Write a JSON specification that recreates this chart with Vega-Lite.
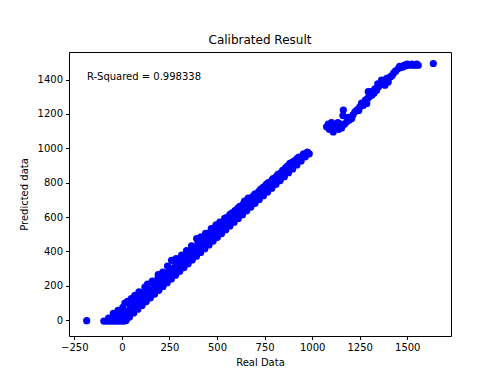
{
  "$schema": "https://vega.github.io/schema/vega-lite/v6.json",
  "width": 382,
  "height": 284,
  "autosize": {"type": "none"},
  "padding": {"left": 69, "top": 52, "right": 44, "bottom": 40},
  "background": "white",
  "title": {"text": "Calibrated Result", "font": "DejaVu Sans", "fontSize": 12, "fontWeight": "normal", "color": "black", "offset": 5},
  "config": {
    "view": {"stroke": "black", "strokeWidth": 1},
    "axis": {
      "grid": false, "domain": false,
      "tickColor": "black", "tickSize": 3.5, "tickWidth": 1,
      "labelFont": "DejaVu Sans", "labelFontSize": 10, "labelColor": "black", "labelPadding": 3,
      "titleFont": "DejaVu Sans", "titleFontSize": 10, "titleFontWeight": "normal", "titleColor": "black"
    }
  },
  "layer": [
    {
      "data": {"values": [
        {"x": -185, "y": -3},
        {"x": -95, "y": -5}, {"x": -80, "y": -5}, {"x": -65, "y": -5}, {"x": -50, "y": -5}, {"x": -35, "y": -5}, {"x": -20, "y": -5}, {"x": -5, "y": -5}, {"x": 10, "y": -5}, {"x": 22, "y": -2},
        {"x": -60, "y": 10}, {"x": -40, "y": 15}, {"x": -25, "y": 25}, {"x": -10, "y": 20}, {"x": 0, "y": 35}, {"x": 10, "y": 45}, {"x": -30, "y": 40}, {"x": -5, "y": 55}, {"x": 12, "y": 15}, {"x": -15, "y": 5},
        {"x": -70, "y": 12}, {"x": -45, "y": 40}, {"x": -20, "y": 57}, {"x": 5, "y": 75}, {"x": 16, "y": 100}, {"x": 30, "y": 110}, {"x": 50, "y": 125}, {"x": 68, "y": 145}, {"x": 90, "y": 165}, {"x": 121, "y": 192}, {"x": 135, "y": 210}, {"x": 160, "y": 228}, {"x": 191, "y": 265}, {"x": 215, "y": 280}, {"x": 240, "y": 315}, {"x": 261, "y": 348}, {"x": 285, "y": 358}, {"x": 314, "y": 378}, {"x": 340, "y": 405}, {"x": 366, "y": 432}, {"x": 393, "y": 475}, {"x": 415, "y": 485}, {"x": 440, "y": 505}, {"x": 470, "y": 532}, {"x": 495, "y": 555}, {"x": 515, "y": 570}, {"x": 540, "y": 592}, {"x": 568, "y": 615}, {"x": 595, "y": 638}, {"x": 620, "y": 662}, {"x": 645, "y": 692}, {"x": 664, "y": 710}, {"x": 690, "y": 722}, {"x": 717, "y": 738}, {"x": 740, "y": 768}, {"x": 761, "y": 792}, {"x": 785, "y": 806}, {"x": 810, "y": 834}, {"x": 835, "y": 856}, {"x": 860, "y": 886}, {"x": 883, "y": 912}, {"x": 905, "y": 925}, {"x": 930, "y": 948}, {"x": 955, "y": 968}, {"x": 975, "y": 978},
        {"x": 40, "y": 18}, {"x": 62, "y": 42}, {"x": 84, "y": 64}, {"x": 106, "y": 86}, {"x": 128, "y": 108}, {"x": 150, "y": 130}, {"x": 172, "y": 152}, {"x": 194, "y": 174}, {"x": 216, "y": 196}, {"x": 238, "y": 218}, {"x": 260, "y": 240}, {"x": 282, "y": 262}, {"x": 304, "y": 284}, {"x": 326, "y": 306}, {"x": 348, "y": 328}, {"x": 370, "y": 350}, {"x": 392, "y": 372}, {"x": 414, "y": 394}, {"x": 436, "y": 416}, {"x": 458, "y": 438}, {"x": 480, "y": 460}, {"x": 502, "y": 482}, {"x": 524, "y": 504}, {"x": 546, "y": 526}, {"x": 568, "y": 548}, {"x": 590, "y": 570}, {"x": 612, "y": 592}, {"x": 634, "y": 614}, {"x": 656, "y": 636}, {"x": 678, "y": 658}, {"x": 700, "y": 680}, {"x": 722, "y": 702}, {"x": 744, "y": 724}, {"x": 766, "y": 746}, {"x": 788, "y": 768}, {"x": 810, "y": 790}, {"x": 832, "y": 812}, {"x": 854, "y": 835}, {"x": 876, "y": 858}, {"x": 898, "y": 880}, {"x": 920, "y": 903}, {"x": 942, "y": 926}, {"x": 964, "y": 950}, {"x": 985, "y": 968},
        {"x": 30, "y": 35}, {"x": 55, "y": 60}, {"x": 80, "y": 85}, {"x": 105, "y": 110}, {"x": 130, "y": 135}, {"x": 155, "y": 160}, {"x": 180, "y": 185}, {"x": 205, "y": 210}, {"x": 230, "y": 235}, {"x": 255, "y": 260}, {"x": 280, "y": 285}, {"x": 305, "y": 310}, {"x": 330, "y": 335}, {"x": 355, "y": 360}, {"x": 380, "y": 385}, {"x": 405, "y": 410}, {"x": 430, "y": 435}, {"x": 455, "y": 460}, {"x": 480, "y": 485}, {"x": 505, "y": 510}, {"x": 530, "y": 535}, {"x": 555, "y": 560}, {"x": 580, "y": 585}, {"x": 605, "y": 610}, {"x": 630, "y": 635}, {"x": 655, "y": 660}, {"x": 680, "y": 685}, {"x": 705, "y": 710}, {"x": 730, "y": 735}, {"x": 755, "y": 760}, {"x": 780, "y": 785}, {"x": 805, "y": 810}, {"x": 830, "y": 835}, {"x": 855, "y": 860}, {"x": 880, "y": 885}, {"x": 905, "y": 910}, {"x": 930, "y": 935}, {"x": 955, "y": 958},
        {"x": 20, "y": 50}, {"x": 45, "y": 75}, {"x": 70, "y": 100}, {"x": 95, "y": 125}, {"x": 120, "y": 150}, {"x": 145, "y": 175}, {"x": 170, "y": 200}, {"x": 195, "y": 225}, {"x": 220, "y": 250}, {"x": 245, "y": 275}, {"x": 270, "y": 300}, {"x": 295, "y": 325}, {"x": 320, "y": 350}, {"x": 345, "y": 375}, {"x": 370, "y": 400}, {"x": 395, "y": 425}, {"x": 420, "y": 450}, {"x": 445, "y": 475}, {"x": 470, "y": 500}, {"x": 495, "y": 525}, {"x": 520, "y": 550}, {"x": 545, "y": 575}, {"x": 570, "y": 600}, {"x": 595, "y": 625}, {"x": 620, "y": 650}, {"x": 645, "y": 675}, {"x": 670, "y": 700}, {"x": 695, "y": 725}, {"x": 720, "y": 750}, {"x": 745, "y": 775}, {"x": 770, "y": 800}, {"x": 795, "y": 824}, {"x": 820, "y": 848}, {"x": 845, "y": 872}, {"x": 870, "y": 896}, {"x": 895, "y": 918}, {"x": 920, "y": 940},
        {"x": 40, "y": 100}, {"x": 70, "y": 128}, {"x": 100, "y": 158}, {"x": 130, "y": 186}, {"x": 160, "y": 216}, {"x": 190, "y": 245}, {"x": 220, "y": 274}, {"x": 250, "y": 305}, {"x": 280, "y": 335}, {"x": 310, "y": 362}, {"x": 340, "y": 392}, {"x": 370, "y": 422}, {"x": 400, "y": 452}, {"x": 430, "y": 480}, {"x": 460, "y": 508}, {"x": 490, "y": 538}, {"x": 520, "y": 566}, {"x": 550, "y": 596}, {"x": 580, "y": 624}, {"x": 610, "y": 652}, {"x": 640, "y": 680}, {"x": 670, "y": 708}, {"x": 700, "y": 735}, {"x": 730, "y": 762}, {"x": 760, "y": 790}, {"x": 790, "y": 816},
        {"x": 1076, "y": 1125}, {"x": 1090, "y": 1110}, {"x": 1102, "y": 1150}, {"x": 1111, "y": 1095}, {"x": 1120, "y": 1120}, {"x": 1129, "y": 1134}, {"x": 1140, "y": 1110}, {"x": 1155, "y": 1118}, {"x": 1164, "y": 1222}, {"x": 1162, "y": 1190}, {"x": 1170, "y": 1140}, {"x": 1182, "y": 1154}, {"x": 1195, "y": 1165}, {"x": 1208, "y": 1173}, {"x": 1225, "y": 1212}, {"x": 1238, "y": 1225}, {"x": 1251, "y": 1241}, {"x": 1270, "y": 1250}, {"x": 1287, "y": 1261}, {"x": 1295, "y": 1329}, {"x": 1292, "y": 1290}, {"x": 1300, "y": 1300}, {"x": 1313, "y": 1309}, {"x": 1325, "y": 1320}, {"x": 1339, "y": 1338}, {"x": 1350, "y": 1360}, {"x": 1365, "y": 1396}, {"x": 1372, "y": 1380}, {"x": 1383, "y": 1367}, {"x": 1392, "y": 1406}, {"x": 1400, "y": 1385}, {"x": 1410, "y": 1415}, {"x": 1427, "y": 1435}, {"x": 1440, "y": 1450}, {"x": 1453, "y": 1464}, {"x": 1466, "y": 1470}, {"x": 1479, "y": 1474}, {"x": 1492, "y": 1480}, {"x": 1505, "y": 1483}, {"x": 1518, "y": 1485}, {"x": 1532, "y": 1483}, {"x": 1545, "y": 1484}, {"x": 1558, "y": 1483}, {"x": 1637, "y": 1493},
        {"x": 1085, "y": 1140}, {"x": 1100, "y": 1125}, {"x": 1135, "y": 1150}, {"x": 1150, "y": 1140}, {"x": 1190, "y": 1180}, {"x": 1215, "y": 1195}, {"x": 1245, "y": 1220}, {"x": 1260, "y": 1262}, {"x": 1280, "y": 1280}, {"x": 1310, "y": 1330}, {"x": 1330, "y": 1345}, {"x": 1345, "y": 1375}, {"x": 1360, "y": 1372}, {"x": 1380, "y": 1395}, {"x": 1420, "y": 1422}, {"x": 1435, "y": 1446}, {"x": 1460, "y": 1476}, {"x": 1485, "y": 1484}, {"x": 1500, "y": 1490}, {"x": 1525, "y": 1490}, {"x": 1550, "y": 1490}
      ]},
      "mark": {"type": "circle", "color": "#0000ff", "size": 52, "opacity": 1},
      "encoding": {
        "x": {"field": "x", "type": "quantitative", "scale": {"domain": [-278, 1730], "nice": false, "zero": false}, "axis": {"title": "Real Data", "titlePadding": 5, "format": "d", "values": [-250, 0, 250, 500, 750, 1000, 1250, 1500]}},
        "y": {"field": "y", "type": "quantitative", "scale": {"domain": [-92, 1560], "nice": false, "zero": false}, "axis": {"title": "Predicted data", "titlePadding": 8, "format": "d", "values": [0, 200, 400, 600, 800, 1000, 1200, 1400]}}
      }
    },
    {
      "data": {"values": [{"x": -184, "y": 1414, "label": "R-Squared = 0.998338"}]},
      "mark": {"type": "text", "align": "left", "baseline": "middle", "font": "DejaVu Sans", "fontSize": 10, "color": "black"},
      "encoding": {
        "x": {"field": "x", "type": "quantitative"},
        "y": {"field": "y", "type": "quantitative"},
        "text": {"field": "label"}
      }
    }
  ]
}
